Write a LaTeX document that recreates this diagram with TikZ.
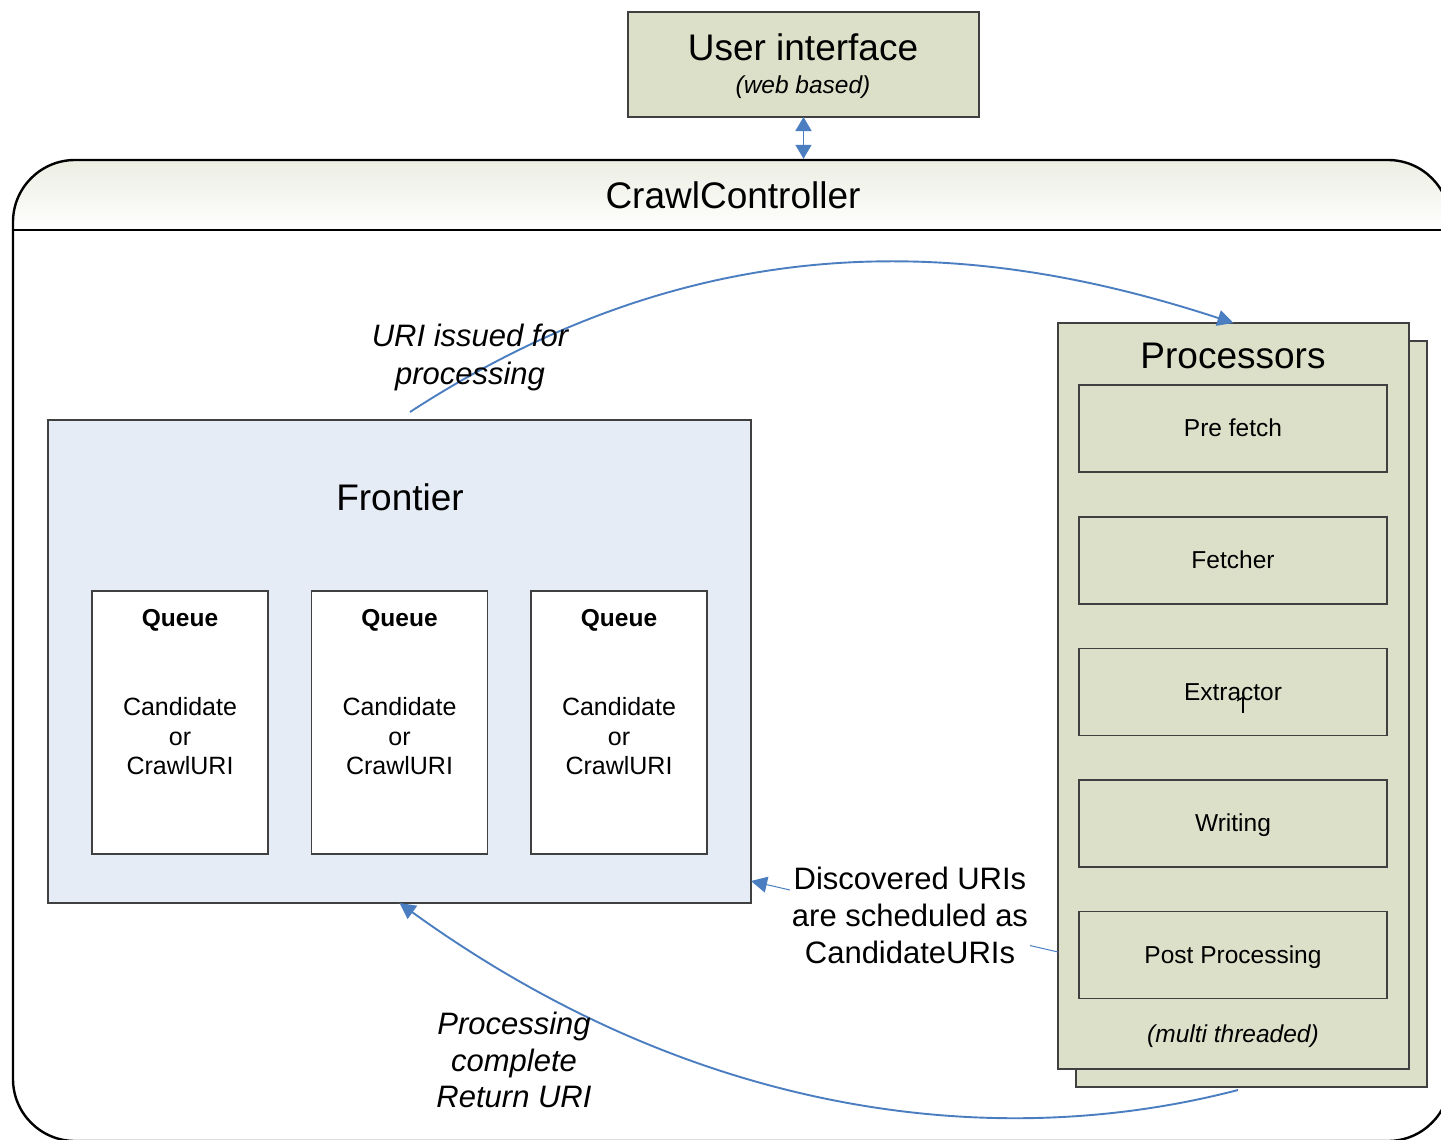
\documentclass[tikz,border=0pt]{standalone}
\usepackage{fontspec}
\setmainfont{Liberation Sans}
\usetikzlibrary{arrows.meta,calc}

\definecolor{olivefill}{RGB}{221,224,201}
\definecolor{frontierfill}{RGB}{230,236,246}
\definecolor{flowblue}{RGB}{74,126,193}
\definecolor{boxline}{RGB}{64,64,64}
\definecolor{headtop}{RGB}{236,237,226}

% font size / baseline skip helper
\newcommand\fsz[2]{\fontsize{#1}{#2}\selectfont}

\begin{document}
\begin{tikzpicture}[x=1pt,y=-1pt,
  box/.style={draw=boxline, line width=1.2pt, inner sep=0pt, outer sep=0pt},
  olivebox/.style={box, fill=olivefill},
  flow/.style={draw=flowblue, line width=1.9pt, -{Triangle[length=16pt,width=16pt]}},
  txt/.style={inner sep=0pt, anchor=base},
  big/.style={font=\fsz{37}{44}},
  small/.style={font=\fsz{24.5}{30}},
  smallit/.style={font=\fsz{24.5}{30}\itshape},
]
\useasboundingbox (0,0) rectangle (1441,1140);
\fill[white] (0,0) rectangle (1441,1140);

% ---- crawl controller: shaded header, rounded frame, header rule
\begin{scope}
  \clip[rounded corners=62pt] (13,160) rectangle (1450,1141);
  \shade[top color=headtop, bottom color=white] (13,160) rectangle (1450,230);
\end{scope}
\node[draw=black, line width=2.4pt, rounded corners=62pt, inner sep=0pt,
      minimum width=1437pt, minimum height=981pt] (ctl) at (731.5,650.5) {};
\draw[line width=2.4pt] (ctl.west |- 0,230) -- (ctl.east |- 0,230);
\node[txt, big] (ctlname) at (733,208) {CrawlController};

% ---- user interface
\node[olivebox, minimum width=351pt, minimum height=105pt] (ui) at (803.5,64.5) {};
\node[txt, big] (uiname) at (803,61) {User interface};
\node[txt, smallit] (uisub) at (803,93) {(web based)};
\draw[draw=flowblue, line width=1.6pt,
      {Triangle[length=14pt,width=16pt]}-{Triangle[length=14pt,width=16pt]}]
  (ui.south) -- (ui.south |- ctl.north);

% ---- frontier with its queues
\node[box, fill=frontierfill, minimum width=703pt, minimum height=483pt] (frontier) at (399.5,661.5) {};
\node[txt, big] (frontiername) at (400,510) {Frontier};
\foreach \i/\x in {1/180,2/399.5,3/619} {
  \node[box, fill=white, minimum width=176pt, minimum height=263pt] (q\i) at (\x,722.5) {};
  \node[txt, font=\fsz{24.5}{30}\bfseries] (q\i t) at (\x,626) {Queue};
  \node[inner sep=0pt, align=center, font=\fsz{25}{29.5}] (q\i c) at (\x,736.5) {Candidate\\or\\CrawlURI};
}

% ---- processors (stacked)
\node[olivebox, minimum width=351pt, minimum height=746pt] (procsback) at (1251.5,714) {};
\node[olivebox, minimum width=351pt, minimum height=746pt] (procs) at (1233.5,696) {};
\node[txt, big] (procsname) at (1233,368) {Processors};
\foreach \n/\y/\t in {pre/428.5/Pre fetch, fetch/560.5/Fetcher, extract/692/Extractor,
                      write/823.5/Writing, post/955/Post Processing} {
  \node[olivebox, minimum width=308pt, minimum height=87pt] (\n) at (1233,\y) {};
  \node[txt, small] (\n lbl) at (1233,\y+8) {\t};
}
% text cursor left in the Extractor box
\draw[line width=1.4pt] (1243,697) -- (1243,713);
\draw[line width=1pt] (1237,701) -- (1243,697);
\node[txt, smallit] (mt) at (1233,1042) {(multi threaded)};

% ---- flows
\coordinate (issuestart) at (410,412);
\draw[flow] (issuestart) .. controls (710,217) and (983,241) .. (procs.north);
\node[inner sep=0pt, align=center, font=\fsz{31}{38}\itshape] (issuelbl) at (470,357)
  {URI issued for\\processing};

\coordinate (retstart) at (1238,1090);
\draw[flow] (retstart) .. controls (1000,1152) and (700,1120) .. (frontier.south);
\node[inner sep=0pt, align=center, font=\fsz{31}{36.5}\itshape] (retlbl) at (514,1060)
  {Processing\\complete\\Return URI};

\coordinate (discstart) at (procs.west |- 0,952);
\coordinate (discend) at (frontier.east |- 0,881);
\draw[flow, line width=1pt] (discstart) -- (discend);
\node[fill=white, inner sep=2pt, align=center, font=\fsz{31}{37}] (disclbl) at (910,915)
  {Discovered URIs\\are scheduled as\\CandidateURIs};
\end{tikzpicture}
\end{document}
